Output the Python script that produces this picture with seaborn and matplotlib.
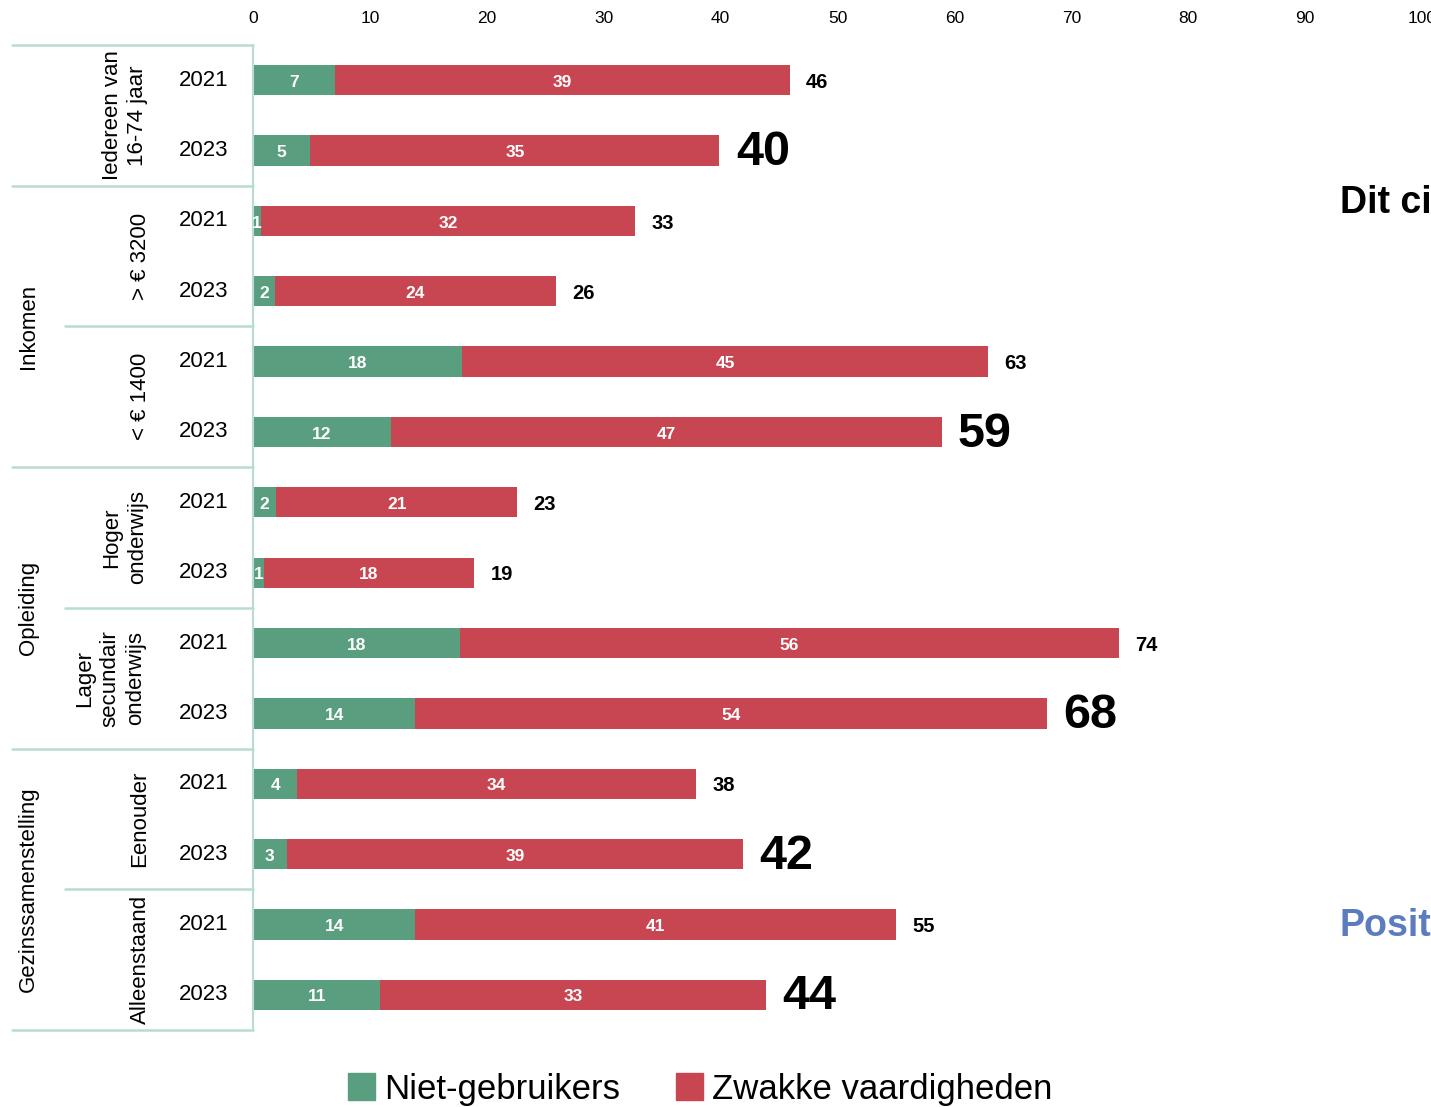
import matplotlib
matplotlib.use("Agg")
import matplotlib.pyplot as plt
import matplotlib.transforms as mtransforms
from matplotlib.patches import Patch
import seaborn as sns
import pandas as pd

# data
subgroups = ["Iedereen van\n16-74 jaar", "> € 3200", "< € 1400", "Hoger\nonderwijs",
             "Lager\nsecundair\nonderwijs", "Eenouder", "Alleenstaand"]
groups = ["Inkomen", "Opleiding", "Gezinssamenstelling"]
years = ["2021", "2023"]
niet_gebruikers = [7.0, 4.9, 0.7, 1.9, 17.9, 11.8, 2.0, 0.9, 17.7, 13.9, 3.8, 2.9, 13.9, 10.9]
zwakke_vaardigheden = [38.9, 35.0, 32.0, 24.0, 45.0, 47.1, 20.6, 18.0, 56.4, 54.0, 34.1, 39.0, 41.1, 33.0]
# rows whose total is highlighted with a large label
highlighted = [1, 5, 9, 11, 13]

GREEN = "#5a9e80"
RED = "#c84552"
LINE = "#b9dcd0"
W, H = 1431, 1107

rows = [f"{s}|{y}" for s in subgroups for y in years]
df = pd.DataFrame({
    "rij": rows,
    "jaar": years * len(subgroups),
    "niet": niet_gebruikers,
    "zwak": zwakke_vaardigheden,
})
df["totaal"] = df["niet"] + df["zwak"]

sns.set_theme(style="white")
plt.rcParams["font.family"] = ["Liberation Sans", "DejaVu Sans"]
plt.rcParams["text.color"] = "black"
plt.rcParams["xtick.color"] = "black"

fig = plt.figure(figsize=(W / 100, H / 100), dpi=100)
ax = fig.add_axes([253 / W, 1 - 1030 / H, (1422 - 253) / W, 985 / H])

# stacked bars: total in red, green on top
sns.barplot(data=df, x="totaal", y="rij", color=RED, width=0.43, saturation=1,
            linewidth=0, ax=ax)
sns.barplot(data=df, x="niet", y="rij", color=GREEN, width=0.43, saturation=1,
            linewidth=0, ax=ax)

ax.set_xlim(0, 100)
ax.set_ylim(13.5, -0.5)
ax.set_xticks(range(0, 101, 10))
ax.xaxis.tick_top()
ax.tick_params(axis="x", length=0, pad=14, labelsize=12.5)
ax.set_yticks([])
ax.set_xlabel("")
ax.set_ylabel("")
for side in ["top", "right", "bottom"]:
    ax.spines[side].set_visible(False)
ax.spines["left"].set_color(LINE)
ax.spines["left"].set_linewidth(1.5)

# value labels
for i, r in df.iterrows():
    ax.text(r["niet"] / 2, i + 0.03, f"{round(r['niet'])}", color="white", fontsize=12.5,
            fontweight="bold", ha="center", va="center")
    ax.text(r["niet"] + r["zwak"] / 2, i + 0.03, f"{round(r['zwak'])}", color="white",
            fontsize=12.5, fontweight="bold", ha="center", va="center")
    big = i in highlighted
    ax.text(r["totaal"] + 1.4, i + 0.03, f"{round(r['totaal'])}", color="black",
            fontsize=35 if big else 14.5, fontweight="bold", ha="left", va="center")

# hierarchical category labels on the left
tr = mtransforms.blended_transform_factory(fig.transFigure, ax.transData)
for i, r in df.iterrows():
    ax.text(204 / W, i, r["jaar"], transform=tr, fontsize=16, ha="center", va="center")

for k, s in enumerate(subgroups):
    n = s.count("\n") + 1
    x = 140 - (n - 1) * 15
    ax.text(x / W, 2 * k + 0.5, s, transform=tr, rotation=90, fontsize=16,
            ha="center", va="center", multialignment="center", linespacing=1.3)

for k, g in enumerate(groups):
    ax.text(28 / W, 3.5 + 4 * k, g, transform=tr, rotation=90, fontsize=16,
            ha="center", va="center")

seps = [(-0.5, 12), (1.5, 12), (3.5, 65), (5.5, 12), (7.5, 65), (9.5, 12), (11.5, 65), (13.5, 12)]
for y, x0 in seps:
    ax.plot([x0 / W, 253 / W], [y, y], transform=tr, color=LINE, lw=1.8, clip_on=False)

# text cut off at the right edge in the original
fig.text(1340 / W, 1 - 203 / H, "Dit cijfer", fontsize=27, fontweight="bold",
         color="black", ha="left", va="center")
fig.text(1340 / W, 1 - 926 / H, "Positief", fontsize=27, fontweight="bold",
         color="#5b7dc0", ha="left", va="center")

handles = [Patch(color=GREEN, label="Niet-gebruikers"),
           Patch(color=RED, label="Zwakke vaardigheden")]
fig.legend(handles=handles, loc="center", bbox_to_anchor=(700 / W, 1 - 1089 / H), ncol=2,
           frameon=False, fontsize=25, handlelength=0.8, handleheight=0.8,
           handletextpad=0.25, columnspacing=1.6)

fig.savefig("out.png", dpi=100)
